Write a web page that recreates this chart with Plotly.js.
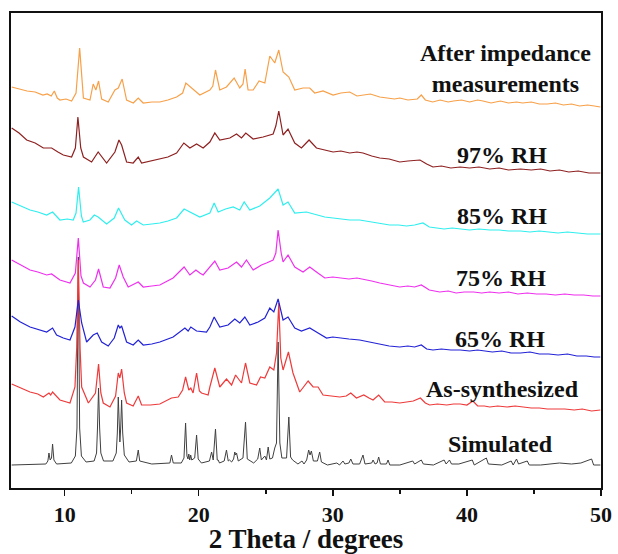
<!DOCTYPE html>
<html>
<head>
<meta charset="utf-8">
<script src="https://cdn.plot.ly/plotly-3.0.1.min.js"></script>
<style>html,body{margin:0;padding:0;background:#fff;}#chart{width:618px;height:554px;}</style>
</head>
<body>
<div id="chart"></div>
<script>
// 2 Theta (degrees) and stacked intensity (arbitrary units, offset per pattern)
var afterX = [6.05,6.6,7.2,7.8,8.38,8.7,9.0,9.23,9.45,9.65,10.1,10.52,10.85,11.12,11.4,11.89,12.13,12.33,12.53,12.76,13.25,13.75,14.0,14.29,14.62,15.12,15.49,15.86,16.5,17.1,17.7,18.35,18.8,19.04,19.46,20.08,20.83,21.05,21.25,21.57,22.07,22.64,23.06,23.3,23.46,23.68,24.06,24.5,24.93,25.3,25.67,25.97,26.29,26.72,27.16,27.78,28.28,28.65,29.27,29.8,30.02,30.6,31.26,31.8,32.25,32.8,33.5,34.0,34.6,35.0,35.6,36.3,36.6,36.9,37.45,38.0,38.6,39.0,39.6,40.2,40.8,41.2,41.8,42.5,43.1,43.7,44.15,44.8,45.4,46.0,46.6,47.2,47.8,48.4,49.0,49.5,49.95];
var afterY = [401,399,397,396,393,394,392,397,390,388,389,387,395,440,390,388,404,398,407,389,386,398,400,409,388,385,390,385,386,386,388,391,395,405,400,393,398,402,418,398,401,410,400,404,419,398,398,407,405,432,425,438,416,411,398,400,400,395,397,394,393,395,396,392,393,394,391,390,389,390,388,389,393,388,386,388,386,387,388,386,388,387,385,387,385,386,385,386,384,384,385,383,384,382,383,382,381];

var rh97X = [6.05,6.6,7.17,7.8,8.41,9.03,9.5,9.9,10.52,10.8,10.99,11.2,11.4,12.01,12.5,13.13,13.75,14.05,14.25,14.62,15.11,15.49,15.74,16.4,17.1,17.7,18.35,18.89,19.34,19.84,20.33,20.83,21.2,21.57,22.32,22.82,23.19,23.51,24.06,24.8,25.55,25.75,25.97,26.29,26.66,27.16,27.66,28.23,28.78,29.3,30.02,30.6,31.26,31.8,32.25,32.9,33.5,34.2,34.99,35.6,36.5,37.0,37.47,38.1,38.8,39.5,40.2,40.9,41.7,42.4,43.1,44.0,44.8,45.5,46.2,46.9,47.6,48.3,49.1,49.95];
var rh97Y = [360,355,348,345,340,340,336,333,331,340,371,340,331,326,336,325,336,348,343,326,325,331,325,327,329,331,335,345,340,344,340,346,355,348,350,354,350,355,349,351,354,362,377,353,359,345,340,348,340,338,336,337,335,336,335,332,330,329,326,327,328,324,321,322,320,321,320,321,319,320,318,319,318,319,317,318,316,317,315,315];

var rh85X = [6.05,6.7,7.42,8.0,8.66,9.1,9.65,10.2,10.64,10.85,11.04,11.25,11.39,11.89,12.21,12.5,13.13,13.7,14.02,14.49,14.99,15.37,15.86,16.5,17.1,17.7,18.35,18.91,19.46,20.08,20.83,21.15,21.45,22.0,22.57,23.06,23.39,23.81,24.55,25.3,25.92,26.29,26.66,27.16,28.03,28.78,29.4,30.02,30.6,31.26,32.0,32.5,33.0,33.6,34.24,34.9,35.5,36.1,36.72,37.2,37.72,38.3,38.9,39.5,40.2,40.9,41.7,42.4,43.1,44.0,44.7,45.4,46.1,46.8,47.5,48.2,49.0,49.95];
var rh85Y = [286,282,278,276,273,276,268,269,268,275,301,272,266,268,273,271,264,270,280,268,263,267,263,264,265,267,270,279,275,271,275,285,276,279,281,278,286,278,282,290,299,283,286,275,276,273,271,270,269,268,268,267,266,265,263,263,262,263,265,261,260,259,260,259,258,259,258,258,257,257,256,257,256,255,256,255,254,254];

var rh75X = [6.05,6.7,7.42,8.0,8.66,9.03,9.65,10.4,10.8,11.02,11.22,11.4,11.89,12.3,12.53,12.88,13.38,13.8,14.07,14.37,14.74,15.49,15.86,16.5,17.1,18.09,18.91,19.34,19.79,20.08,20.33,21.2,21.57,22.19,22.82,23.19,23.56,24.06,24.68,25.05,25.55,25.75,25.92,26.15,26.29,26.66,27.16,27.78,28.28,28.78,29.4,30.0,30.52,31.2,31.8,32.25,32.9,33.5,34.2,34.99,35.6,36.1,36.6,37.2,37.97,38.6,39.2,39.8,40.5,41.1,41.7,42.4,43.1,43.8,44.5,45.2,45.9,46.6,47.3,48.0,48.7,49.4,49.95];
var rh75Y = [228,223,218,216,213,214,208,205,215,250,212,205,201,208,219,201,200,210,223,211,201,206,201,202,203,210,221,213,218,215,213,227,218,220,226,221,228,218,223,225,228,235,258,235,226,233,221,216,221,216,210,211,210,209,210,209,207,205,203,201,202,201,203,198,196,197,195,196,196,195,196,195,196,194,195,194,194,193,194,193,193,192,192];

var rh65X = [6.05,6.7,7.42,8.0,8.66,9.1,9.4,9.9,10.4,10.77,11.02,11.27,11.64,12.13,12.43,12.76,13.25,13.7,14.0,14.12,14.25,14.62,15.11,15.49,15.86,16.5,17.1,18.09,18.97,19.21,19.41,19.84,20.58,20.83,21.15,21.57,22.19,22.69,23.06,23.44,23.81,24.43,24.93,25.3,25.6,25.92,26.29,26.66,27.16,27.66,28.28,28.9,29.53,30.0,30.52,31.2,32.0,32.7,33.5,34.2,34.99,35.6,36.1,36.6,37.0,37.47,38.1,38.8,39.5,40.2,40.8,41.2,41.9,42.6,43.3,44.0,44.7,45.4,46.1,46.8,47.5,48.2,48.9,49.5,49.95];
var rh65Y = [172,166,161,159,156,160,153,150,148,161,188,165,146,153,155,146,142,150,163,160,162,146,143,148,143,144,146,151,160,157,161,157,156,161,171,161,163,169,165,171,163,166,170,180,176,189,168,171,160,157,160,155,150,151,150,149,148,146,144,142,141,142,141,143,139,138,139,138,138,137,138,137,136,137,135,135,136,134,134,133,134,132,132,131,131];

var synthX = [6.05,6.7,7.42,8.0,8.41,8.83,8.96,9.1,9.65,10.4,10.77,10.9,11.02,11.15,11.27,11.77,12.3,12.53,12.7,12.88,13.38,13.8,14.0,14.12,14.25,14.45,14.62,15.11,15.49,15.74,16.4,17.1,17.97,18.47,18.8,19.02,19.26,19.41,19.58,19.84,20.05,20.21,20.7,20.83,21.2,21.57,22.07,22.45,22.75,23.19,23.49,23.81,24.31,24.61,24.93,25.3,25.6,25.8,25.97,26.12,26.29,26.69,27.03,27.53,28.16,28.53,28.9,29.27,29.9,30.52,31.0,31.34,31.76,32.31,32.7,33.0,33.42,33.87,34.4,34.99,35.5,36.0,36.53,36.9,37.22,37.8,38.5,39.0,39.5,40.0,40.45,40.8,41.3,41.7,42.3,43.0,43.6,44.15,44.8,45.4,46.0,46.66,47.3,48.0,48.6,49.3,49.95];
var synthY = [104,100,96,94,91,95,93,96,88,85,101,140,228,140,101,85,95,124,95,85,81,92,115,110,119,95,85,82,92,83,83,84,90,91,98,111,98,100,95,115,97,95,93,101,120,101,109,103,113,105,125,105,103,111,110,121,118,135,185,130,118,136,115,96,107,101,101,93,92,91,92,95,90,93,90,88,93,86,86,85,86,87,90,85,83,84,83,84,84,83,87,82,82,81,82,81,82,81,80,80,79,79,79,78,79,77,78];

var simX = [6.05,8.6,8.75,8.83,8.92,9.02,9.1,9.2,9.4,10.5,10.8,10.92,11.02,11.12,11.25,11.6,12.2,12.38,12.45,12.53,12.61,12.7,12.9,13.6,13.85,13.93,14.0,14.08,14.12,14.18,14.25,14.33,14.45,14.8,15.35,15.49,15.6,16.5,17.85,17.97,18.1,18.7,18.8,18.9,19.02,19.12,19.2,19.26,19.33,19.4,19.48,19.7,19.84,19.96,20.2,20.8,20.96,21.08,21.25,21.38,21.45,21.55,21.9,22.07,22.2,22.3,22.45,22.6,22.69,22.75,22.82,22.95,23.3,23.49,23.62,24.1,24.4,24.55,24.67,24.93,25.05,25.18,25.3,25.5,25.67,25.8,25.92,26.05,26.2,26.55,26.72,26.85,27.0,27.4,27.7,27.85,28.05,28.2,28.3,28.4,28.55,28.85,29.02,29.15,29.6,30.3,30.5,30.76,30.9,31.2,31.34,31.5,32.0,32.25,32.4,32.9,33.0,33.15,33.3,33.42,33.55,34.0,34.12,34.25,35.0,35.96,36.1,36.6,36.75,37.5,38.3,38.45,38.7,38.85,39.4,40.4,40.55,41.45,41.6,42.6,43.3,43.45,43.7,43.85,44.5,44.65,45.5,46.9,47.8,48.5,49.3,49.45,49.95];
var simY = [23,24,27,35,28,30,44,28,24,25,32,60,231,60,32,26,27,35,60,100,60,35,27,27,35,55,91,55,46,60,88,55,33,26,27,38,27,24,25,33,25,25,28,30,65,32,29,34,28,33,28,30,53,29,25,27,36,28,59,28,28,25,27,38,27,28,26,29,36,33,35,27,30,66,29,25,29,40,28,32,28,41,29,30,40,45,146,45,30,30,71,31,28,24,27,24,28,38,33,37,27,27,36,26,23,25,23,27,24,25,29,24,24,33,24,25,28,24,25,31,24,24,28,23,23,27,24,28,24,23,28,24,28,24,24,28,23,30,24,23,27,23,29,24,27,23,23,25,24,25,29,23,23];

var seriesNames = ["Simulated","As-synthesized","65% RH","75% RH","85% RH","97% RH","After impedance measurements"];
var seriesX = [simX, synthX, rh65X, rh75X, rh85X, rh97X, afterX];
var seriesY = [simY, synthY, rh65Y, rh75Y, rh85Y, rh97Y, afterY];
var seriesColors = ["#404040","#EE3A3A","#2222D6","#EE30EE","#30EEEE","#8E2020","#F7A048"];

var labelText = ["After impedance<br>measurements","97% RH","85% RH","75% RH","65% RH","As-synthesized","Simulated"];
var labelX = [42.88,42.62,42.62,42.56,42.48,42.68,42.5];
var labelY = [420,333,272,210,149,99,44];

var xTicks = [10,20,30,40,50];

var serif = "Liberation Serif, Times New Roman, serif";
var traces = [];
for (var i = 0; i < seriesNames.length; i++) {
  traces.push({
    type: "scatter", mode: "lines", name: seriesNames[i],
    x: seriesX[i], y: seriesY[i],
    line: {color: seriesColors[i], width: i === 0 ? 1 : 1.2},
    hoverinfo: "skip"
  });
}
var annotations = [];
for (var j = 0; j < labelText.length; j++) {
  annotations.push({
    text: labelText[j], x: labelX[j], y: labelY[j], xref: "x", yref: "y",
    showarrow: false, xanchor: "center", yanchor: "middle", align: "center",
    font: {family: serif, size: 24, color: "#111", weight: "bold"}
  });
}
var layout = {
  width: 618, height: 554,
  margin: {l: 11, r: 17, t: 13, b: 66},
  paper_bgcolor: "#fff", plot_bgcolor: "#fff",
  showlegend: false,
  annotations: annotations,
  xaxis: {
    range: [6, 50], tickvals: xTicks, ticktext: xTicks.map(String),
    ticks: "outside", ticklen: 6, tickwidth: 1.5, tickcolor: "#111",
    minor: {tickvals: [15,25,35,45], ticks: "outside", ticklen: 4, tickwidth: 1.5, tickcolor: "#111"},
    showline: true, linecolor: "#111", linewidth: 2, mirror: true,
    showgrid: false, zeroline: false,
    tickfont: {family: serif, size: 22, color: "#111", weight: "bold"},
    title: {text: "2 Theta / degrees", standoff: 4, font: {family: serif, size: 27, color: "#111", weight: "bold"}},
    automargin: false
  },
  yaxis: {
    range: [0, 475], showticklabels: false, ticks: "",
    showline: true, linecolor: "#111", linewidth: 2, mirror: true,
    showgrid: false, zeroline: false, automargin: false
  }
};
Plotly.newPlot("chart", traces, layout, {displayModeBar: false, staticPlot: true});
</script>
</body>
</html>
